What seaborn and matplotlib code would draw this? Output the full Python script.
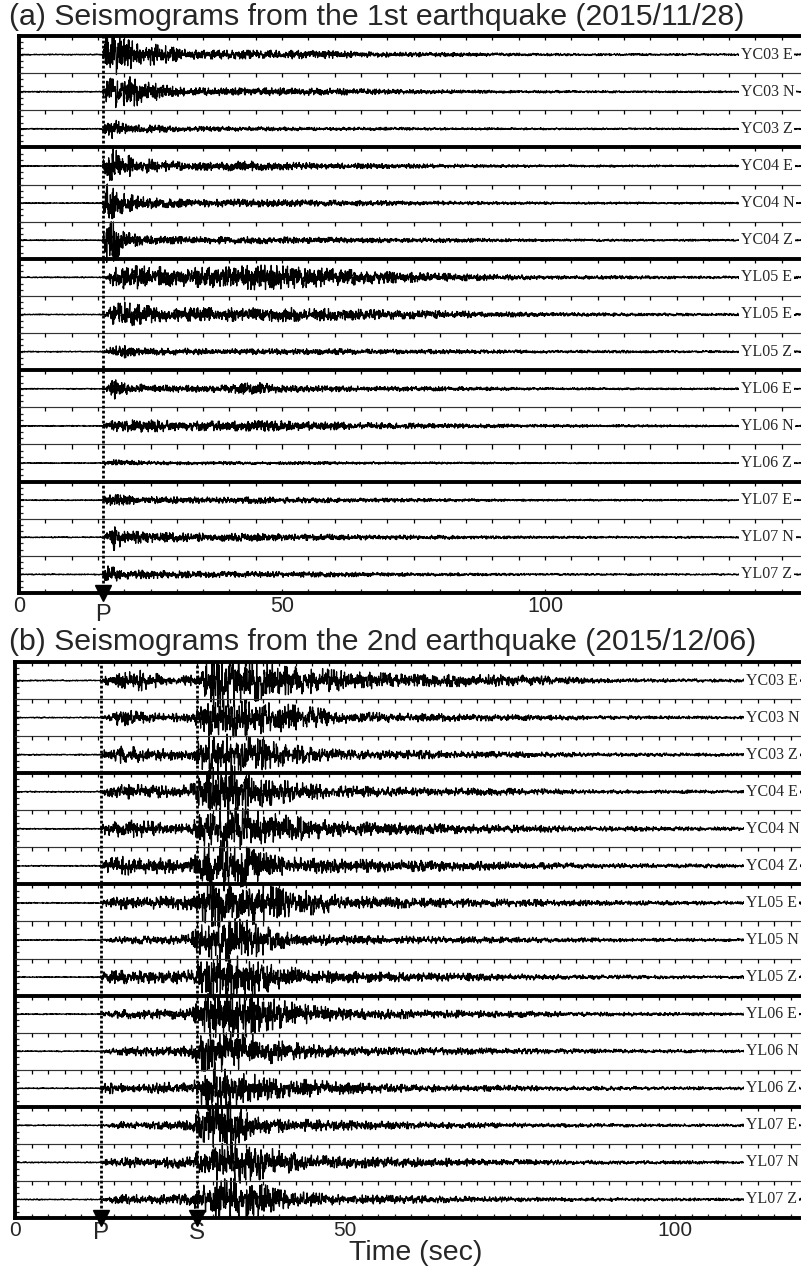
import numpy as np
import matplotlib
matplotlib.use("Agg")
import matplotlib.pyplot as plt
import seaborn as sns

# trace labels, top to bottom
labels_a = ["YC03 E", "YC03 N", "YC03 Z", "YC04 E", "YC04 N", "YC04 Z",
            "YL05 E", "YL05 E", "YL05 Z", "YL06 E", "YL06 N", "YL06 Z",
            "YL07 E", "YL07 N", "YL07 Z"]
labels_b = ["YC03 E", "YC03 N", "YC03 Z", "YC04 E", "YC04 N", "YC04 Z",
            "YL05 E", "YL05 N", "YL05 Z", "YL06 E", "YL06 N", "YL06 Z",
            "YL07 E", "YL07 N", "YL07 Z"]

# phase picks (sec)
p_time_a = 16.0
p_time_b = 13.1
s_time_b = 27.6

# amplitude envelopes (fraction of one trace row)
knots_a = [0, 15.8, 16.5, 18, 20, 23, 27, 32, 40, 45, 50, 60, 70, 85, 100, 150]
env_a = [
    [0.01, 0.01, 0.42, 0.45, 0.32, 0.25, 0.20, 0.10, 0.09, 0.09, 0.09, 0.08, 0.05, 0.04, 0.025, 0.015],
    [0.01, 0.01, 0.20, 0.33, 0.33, 0.28, 0.15, 0.08, 0.08, 0.08, 0.08, 0.07, 0.05, 0.035, 0.025, 0.015],
    [0.01, 0.01, 0.20, 0.20, 0.10, 0.09, 0.07, 0.05, 0.05, 0.045, 0.04, 0.035, 0.03, 0.025, 0.02, 0.012],
    [0.01, 0.01, 0.38, 0.35, 0.25, 0.16, 0.12, 0.08, 0.10, 0.10, 0.08, 0.06, 0.05, 0.035, 0.025, 0.015],
    [0.01, 0.01, 0.42, 0.30, 0.20, 0.14, 0.10, 0.08, 0.08, 0.08, 0.07, 0.06, 0.05, 0.035, 0.025, 0.015],
    [0.01, 0.01, 0.50, 0.45, 0.20, 0.10, 0.08, 0.07, 0.08, 0.07, 0.07, 0.06, 0.05, 0.04, 0.025, 0.015],
    [0.01, 0.01, 0.03, 0.20, 0.24, 0.24, 0.22, 0.20, 0.22, 0.26, 0.24, 0.18, 0.12, 0.07, 0.04, 0.02],
    [0.01, 0.01, 0.05, 0.22, 0.26, 0.20, 0.15, 0.14, 0.14, 0.14, 0.15, 0.12, 0.10, 0.07, 0.04, 0.02],
    [0.01, 0.01, 0.05, 0.12, 0.13, 0.08, 0.07, 0.07, 0.06, 0.06, 0.06, 0.06, 0.05, 0.04, 0.03, 0.015],
    [0.01, 0.01, 0.05, 0.22, 0.12, 0.10, 0.08, 0.07, 0.08, 0.14, 0.07, 0.06, 0.05, 0.04, 0.025, 0.015],
    [0.01, 0.01, 0.06, 0.12, 0.12, 0.13, 0.12, 0.10, 0.10, 0.11, 0.10, 0.08, 0.06, 0.045, 0.03, 0.015],
    [0.01, 0.01, 0.05, 0.07, 0.06, 0.05, 0.04, 0.035, 0.035, 0.03, 0.03, 0.03, 0.025, 0.02, 0.015, 0.01],
    [0.01, 0.01, 0.10, 0.12, 0.10, 0.08, 0.07, 0.07, 0.06, 0.07, 0.06, 0.05, 0.04, 0.03, 0.02, 0.012],
    [0.01, 0.01, 0.06, 0.28, 0.14, 0.12, 0.10, 0.09, 0.08, 0.08, 0.07, 0.06, 0.05, 0.035, 0.025, 0.015],
    [0.01, 0.01, 0.22, 0.15, 0.10, 0.09, 0.08, 0.07, 0.06, 0.06, 0.06, 0.05, 0.04, 0.03, 0.02, 0.012],
]

knots_b = [0, 12.8, 13.5, 16, 19, 23, 26.5, 28, 30, 33, 36, 40, 45, 50, 60, 75, 90, 120]
env_b = [
    [0.012, 0.012, 0.08, 0.15, 0.22, 0.10, 0.10, 0.20, 0.55, 0.55, 0.45, 0.30, 0.27, 0.20, 0.13, 0.12, 0.04, 0.03],
    [0.012, 0.012, 0.06, 0.18, 0.12, 0.08, 0.10, 0.20, 0.50, 0.40, 0.35, 0.30, 0.22, 0.12, 0.09, 0.06, 0.04, 0.025],
    [0.012, 0.012, 0.10, 0.18, 0.16, 0.12, 0.12, 0.25, 0.55, 0.38, 0.35, 0.25, 0.15, 0.10, 0.09, 0.06, 0.04, 0.025],
    [0.012, 0.012, 0.07, 0.15, 0.15, 0.12, 0.15, 0.30, 0.50, 0.55, 0.35, 0.25, 0.16, 0.12, 0.09, 0.07, 0.04, 0.025],
    [0.012, 0.012, 0.12, 0.18, 0.18, 0.12, 0.10, 0.30, 0.48, 0.45, 0.40, 0.30, 0.22, 0.15, 0.12, 0.08, 0.05, 0.03],
    [0.012, 0.012, 0.15, 0.20, 0.18, 0.16, 0.15, 0.30, 0.55, 0.50, 0.35, 0.20, 0.16, 0.14, 0.12, 0.08, 0.05, 0.03],
    [0.012, 0.012, 0.06, 0.14, 0.12, 0.14, 0.15, 0.35, 0.50, 0.50, 0.45, 0.30, 0.25, 0.15, 0.10, 0.08, 0.05, 0.03],
    [0.012, 0.012, 0.02, 0.07, 0.08, 0.08, 0.12, 0.30, 0.42, 0.45, 0.40, 0.18, 0.12, 0.10, 0.08, 0.06, 0.04, 0.025],
    [0.012, 0.012, 0.12, 0.14, 0.13, 0.14, 0.15, 0.30, 0.45, 0.45, 0.40, 0.25, 0.14, 0.12, 0.09, 0.07, 0.04, 0.025],
    [0.012, 0.012, 0.05, 0.09, 0.10, 0.10, 0.12, 0.30, 0.50, 0.55, 0.40, 0.30, 0.18, 0.12, 0.09, 0.07, 0.04, 0.025],
    [0.012, 0.012, 0.04, 0.08, 0.10, 0.10, 0.12, 0.40, 0.45, 0.40, 0.35, 0.22, 0.14, 0.10, 0.08, 0.06, 0.04, 0.025],
    [0.012, 0.012, 0.12, 0.10, 0.08, 0.13, 0.10, 0.30, 0.55, 0.40, 0.30, 0.20, 0.18, 0.12, 0.08, 0.06, 0.04, 0.025],
    [0.012, 0.012, 0.03, 0.08, 0.07, 0.08, 0.10, 0.30, 0.45, 0.50, 0.20, 0.15, 0.12, 0.10, 0.07, 0.05, 0.035, 0.025],
    [0.012, 0.012, 0.05, 0.12, 0.10, 0.12, 0.12, 0.25, 0.35, 0.45, 0.40, 0.25, 0.15, 0.12, 0.10, 0.06, 0.04, 0.025],
    [0.012, 0.012, 0.05, 0.10, 0.10, 0.10, 0.12, 0.25, 0.40, 0.45, 0.40, 0.20, 0.14, 0.10, 0.08, 0.05, 0.035, 0.025],
]

fs = 40.0  # samples per second


def make_trace(knots, amps, t_end, seed):
    # envelope from the read values, the wiggle itself is only texture
    t = np.arange(0, t_end, 1.0 / fs)
    env = np.interp(t, knots, amps)
    rng = np.random.default_rng(seed)
    w = rng.standard_t(4, t.size)
    w = np.convolve(w, [0.25, 0.5, 0.25], mode="same")
    w = np.clip(w / 1.5, -1.3, 1.3)
    return t, env * w


def draw_panel(ax, labels, knots, envs, xmax, label_x, tick_step, picks, seed0):
    n = len(labels)
    for i, (lab, amps) in enumerate(zip(labels, envs)):
        base = n - i - 0.5
        t, y = make_trace(knots, amps, xmax, seed0 + i)
        sns.lineplot(x=t, y=y + base, ax=ax, color="black", lw=0.9,
                     estimator=None, sort=False, legend=False)
        ax.text(label_x, base, lab, family="Liberation Serif", fontsize=11.5,
                va="center", ha="left", zorder=5,
                bbox=dict(fc="white", ec="none", pad=1.5))
    for k in range(1, n):
        if k % 3 == 0:
            ax.axhline(k, color="black", lw=2.8, zorder=3)
        else:
            ax.axhline(k, color="#333333", lw=0.85, zorder=3)
    ticks = np.arange(tick_step, xmax, tick_step)
    for k in range(1, n + 1):
        ax.vlines(ticks, k - 0.11, k, color="black", lw=0.9, zorder=3)
    for p in picks:
        ax.axvline(p, color="black", lw=2.0, ls=(0, (1, 0.8)), zorder=4)
        ax.plot([p], [0], marker="v", color="black", ms=11, clip_on=False, zorder=6)

    ax.set_xlim(0, xmax)
    ax.set_ylim(0, n)
    ax.set_xticks([0, 50, 100])
    ax.set_xticks(ticks, minor=True)
    ax.set_yticks(np.arange(0, n, 1 / 6.0))
    ax.set_yticklabels([])
    ax.tick_params(axis="x", which="both", direction="in", length=3, width=0.9,
                   bottom=True, top=False)
    ax.tick_params(axis="y", direction="in", length=3, width=0.9, left=True)
    ax.set_xlabel("")
    ax.set_ylabel("")
    for side in ["top", "left", "bottom"]:
        ax.spines[side].set_linewidth(2.8)
        ax.spines[side].set_color("black")
    ax.spines["right"].set_visible(False)


sns.set_style("white")
plt.rcParams["font.family"] = ["Liberation Sans", "DejaVu Sans"]

fig = plt.figure(figsize=(8.01, 12.68), dpi=100)
W, H = 801.0, 1268.0

# panel (a)
ax_a = fig.add_axes([19 / W, 1 - 593 / H, 789 / W, (593 - 36) / H])
draw_panel(ax_a, labels_a, knots_a, env_a, 150, 137.2, 5, [p_time_a], 100)
ax_a.set_xticklabels(["0", "50", "100"], fontsize=15.5)
ax_a.tick_params(axis="x", pad=2)
ax_a.annotate("P", xy=(p_time_a, 0), xytext=(0, -15.5), textcoords="offset points",
              ha="center", va="center", fontsize=17, annotation_clip=False)

# panel (b)
ax_b = fig.add_axes([15 / W, 1 - 1218 / H, 792 / W, (1218 - 662) / H])
draw_panel(ax_b, labels_b, knots_b, env_b, 120, 110.8, 2.5, [p_time_b, s_time_b], 200)
ax_b.set_xticklabels(["0", "50", "100"], fontsize=15)
ax_b.tick_params(axis="x", pad=2)
for p, name in [(p_time_b, "P"), (s_time_b, "S")]:
    ax_b.annotate(name, xy=(p, 0), xytext=(0, -11), textcoords="offset points",
                  ha="center", va="center", fontsize=17.5, annotation_clip=False)

fig.text(9 / W, 1 - 17 / H, "(a) Seismograms from the 1st earthquake (2015/11/28)",
         fontsize=21.8, ha="left", va="center")
fig.text(9 / W, 1 - 642 / H, "(b) Seismograms from the 2nd earthquake (2015/12/06)",
         fontsize=21.8, ha="left", va="center")
fig.text(416 / W, 1 - 1260 / H, "Time (sec)", fontsize=20.5, ha="center", va="baseline")

fig.savefig("out.png", dpi=100)
